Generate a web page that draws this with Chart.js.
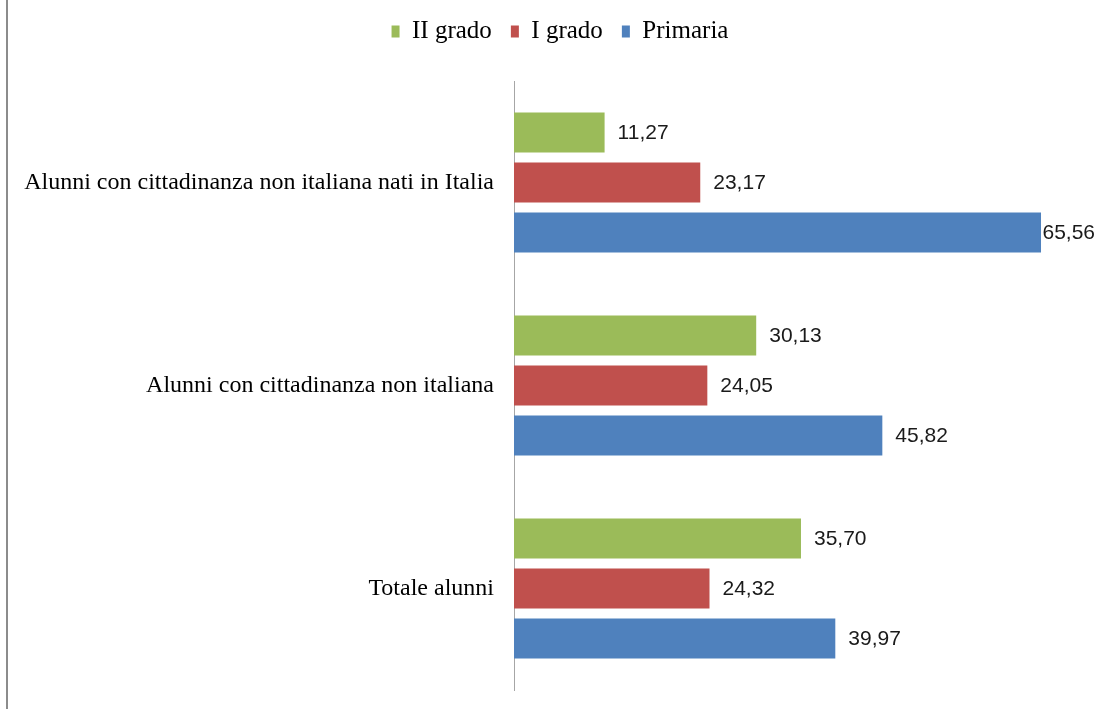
<!DOCTYPE html>
<html><head><meta charset="utf-8">
<script src="https://cdn.jsdelivr.net/npm/chart.js@4/dist/chart.umd.min.js"></script>
<style>
html,body{margin:0;padding:0;background:#fff;}
#wrap{position:relative;width:1096px;height:709px;}
#frame{position:absolute;left:6px;top:0;width:2px;height:709px;background:#8c8c8c;}
canvas{position:absolute;left:0;top:0;}
</style></head>
<body><div id="wrap"><div id="frame"></div><canvas id="c" width="1096" height="709"></canvas></div>
<script>
const categories = ["Alunni con cittadinanza non italiana nati in Italia", "Alunni con cittadinanza non italiana", "Totale alunni"];
const seriesNames = ["II grado", "I grado", "Primaria"];
const iiGrado = [11.27, 30.13, 35.70];
const iGrado = [23.17, 24.05, 24.32];
const primaria = [65.56, 45.82, 39.97];
const colors = ["#9BBB59", "#C0504D", "#4F81BD"];

const fmt = v => v.toFixed(2).replace('.', ',');

const labelPlugin = {
  id: 'valueLabels',
  afterDatasetsDraw(chart) {
    const ctx = chart.ctx;
    ctx.save();
    ctx.font = '21px "Liberation Sans", Arial, sans-serif';
    ctx.fillStyle = '#1a1a1a';
    ctx.textAlign = 'left';
    ctx.textBaseline = 'middle';
    chart.data.datasets.forEach((ds, i) => {
      chart.getDatasetMeta(i).data.forEach((bar, j) => {
        const t = fmt(ds.data[j]);
        const w = ctx.measureText(t).width;
        const x = Math.min(bar.x + 13, chart.width - w - 1);
        ctx.fillText(t, x, bar.y + 1);
      });
    });
    ctx.restore();
  }
};

new Chart(document.getElementById('c'), {
  type: 'bar',
  data: {
    labels: categories,
    datasets: [
      { label: seriesNames[0], data: iiGrado, backgroundColor: colors[0] },
      { label: seriesNames[1], data: iGrado, backgroundColor: colors[1] },
      { label: seriesNames[2], data: primaria, backgroundColor: colors[2] }
    ]
  },
  options: {
    indexAxis: 'y',
    responsive: false,
    animation: false,
    devicePixelRatio: 1,
    layout: { padding: { top: 0, right: 0, bottom: 19, left: 24 } },
    datasets: { bar: { categoryPercentage: 0.74, barPercentage: 0.8 } },
    scales: {
      x: {
        position: 'top',
        display: true,
        min: 0, max: 72.4,
        afterFit(s) { s.height = 27; },
        grid: { display: false, drawTicks: false },
        border: { display: false },
        ticks: { display: false }
      },
      y: {
        afterFit(s) { s.width = 490; s.paddingTop = 0; s.paddingBottom = 0; },
        grid: { display: false, drawTicks: false },
        border: { display: true, color: '#a6a6a6', width: 1 },
        ticks: {
          padding: 20,
          color: '#000',
          font: { family: '"Liberation Serif", "Times New Roman", serif', size: 24 }
        }
      }
    },
    plugins: {
      legend: {
        position: 'top',
        labels: {
          boxWidth: 8, boxHeight: 12,
          padding: 19,
          color: '#000',
          font: { family: '"Liberation Serif", "Times New Roman", serif', size: 25 }
        }
      },
      tooltip: { enabled: false }
    }
  },
  plugins: [labelPlugin]
});
</script></body></html>
